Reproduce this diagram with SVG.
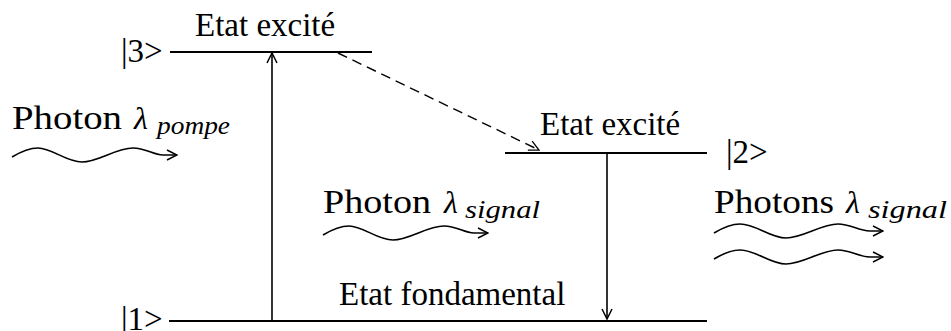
<svg xmlns="http://www.w3.org/2000/svg" width="951" height="331" viewBox="0 0 951 331" font-family="Liberation Serif">
<defs>
<style>
.lvl{stroke:#000;stroke-width:2;fill:none}
.arr{stroke:#000;stroke-width:1.6;fill:none;marker-end:url(#ah)}
.dash{stroke:#000;stroke-width:1.4;fill:none;stroke-dasharray:10 6;marker-end:url(#ahd)}
.wave{stroke:#000;stroke-width:1.6;fill:none;marker-end:url(#ah)}
</style>
<marker id="ah" viewBox="0 0 12 12" refX="11" refY="6" markerWidth="12" markerHeight="12" markerUnits="userSpaceOnUse" orient="auto">
<path d="M1,1 L11,6 L1,11" fill="none" stroke="#000" stroke-width="1.5"/>
</marker>
<marker id="ahd" viewBox="0 0 12 12" refX="11" refY="6" markerWidth="12" markerHeight="12" markerUnits="userSpaceOnUse" orient="auto">
<path d="M1,1 L11,6 L1,11" fill="none" stroke="#000" stroke-width="1.3"/>
</marker>
</defs>
<rect width="951" height="331" fill="#fff"/>

<g id="level3">
<line class="lvl" x1="170" y1="52" x2="372" y2="52"/>
<text x="195" y="36" font-size="33" font-family="Liberation Serif">Etat excité</text>
<text x="121" y="62" font-size="33" font-family="Liberation Serif">|3&gt;</text>
</g>

<g id="level2">
<line class="lvl" x1="505" y1="153" x2="707" y2="153"/>
<text x="540" y="135" font-size="33" font-family="Liberation Serif">Etat excité</text>
<text x="726" y="163" font-size="33" font-family="Liberation Serif">|2&gt;</text>
</g>

<g id="level1">
<line class="lvl" x1="169" y1="321" x2="707" y2="321"/>
<text x="339" y="305" font-size="33" font-family="Liberation Serif">Etat fondamental</text>
<text x="121" y="330" font-size="33" font-family="Liberation Serif">|1&gt;</text>
</g>

<g id="photon-pompe">
<text x="12" y="129" font-size="34" font-family="Liberation Serif" textLength="110" lengthAdjust="spacingAndGlyphs">Photon</text>
<text x="134" y="129" font-size="32" font-style="italic" font-family="Liberation Serif">λ</text>
<text x="157" y="134" font-size="25" font-style="italic" font-family="Liberation Serif" textLength="73" lengthAdjust="spacingAndGlyphs">pompe</text>
<path class="wave" d="M12,157 C22,151 30,148 38,148 C52,148 66,162 82,162 C98,162 116,148 133,148 C146,148 153,155 163,155 L177,155"/>
</g>

<g id="photon-signal">
<text x="323" y="213" font-size="34" font-family="Liberation Serif" textLength="108" lengthAdjust="spacingAndGlyphs">Photon</text>
<text x="444" y="213" font-size="32" font-style="italic" font-family="Liberation Serif">λ</text>
<text x="465" y="218" font-size="25" font-style="italic" font-family="Liberation Serif" textLength="75" lengthAdjust="spacingAndGlyphs">signal</text>
<path class="wave" d="M323,235 C333,229 341,226 349,226 C363,226 377,240 393,240 C409,240 427,226 444,226 C457,226 464,233 474,233 L488,233"/>
</g>

<g id="photons-signal">
<text x="714" y="213" font-size="34" font-family="Liberation Serif" textLength="120" lengthAdjust="spacingAndGlyphs">Photons</text>
<text x="846" y="213" font-size="32" font-style="italic" font-family="Liberation Serif">λ</text>
<text x="868" y="218" font-size="25" font-style="italic" font-family="Liberation Serif" textLength="79" lengthAdjust="spacingAndGlyphs">signal</text>
<path class="wave" d="M714,233 C724,227 732,224 740,224 C756,224 770,238 786,238 C803,238 821,224 838,224 C851,224 858,231 870,231 L883,231"/>
<path class="wave" d="M714,259 C724,253 732,250 740,250 C756,250 770,264 786,264 C803,264 821,250 838,250 C851,250 858,257 870,257 L883,257"/>
</g>

<g id="connectors">
<line class="arr" x1="272" y1="321" x2="272" y2="53"/>
<line class="arr" x1="607" y1="154" x2="607" y2="319"/>
<line class="dash" x1="338" y1="53" x2="539" y2="150"/>
</g>
</svg>
